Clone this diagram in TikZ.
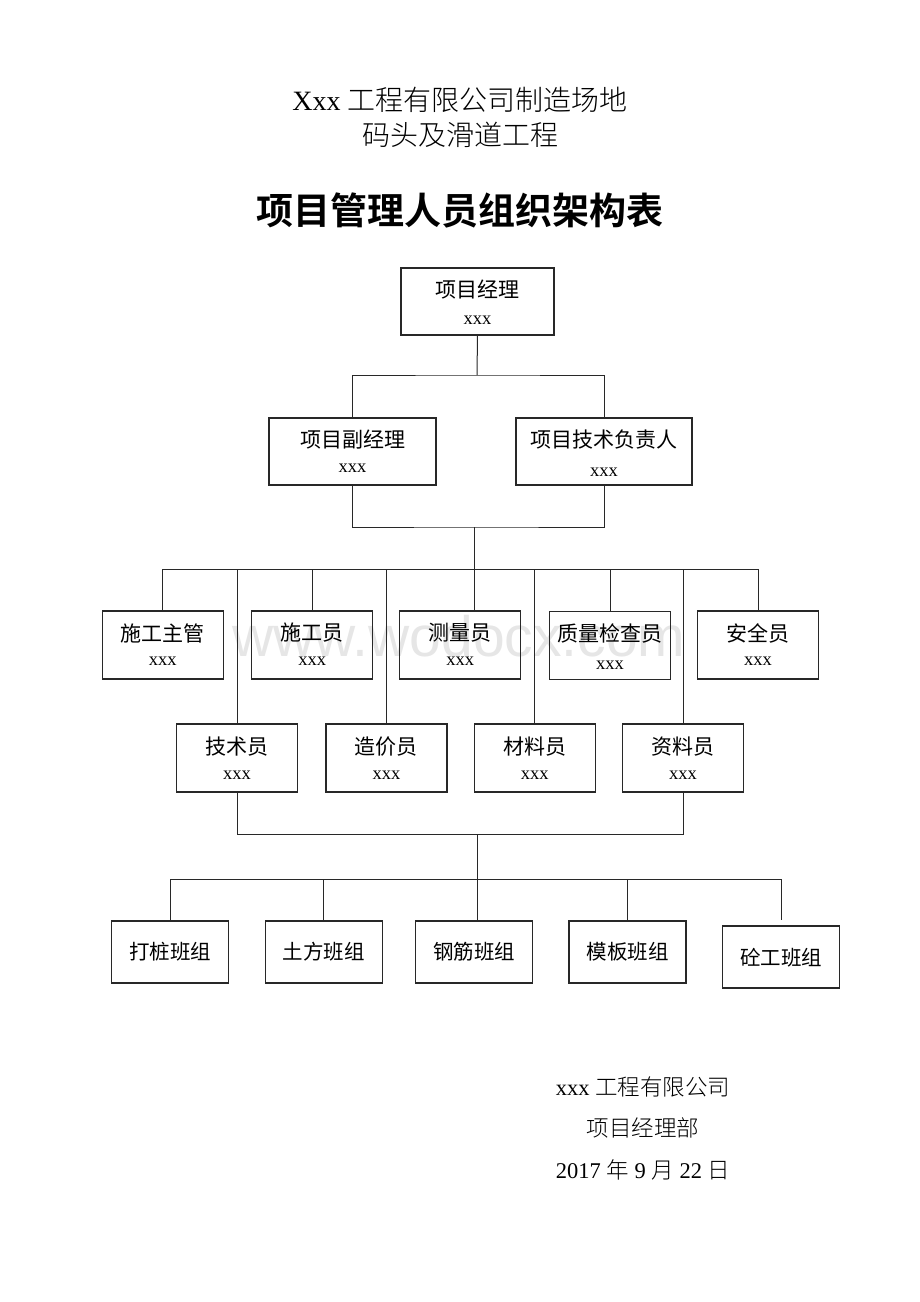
\documentclass[tikz,border=0pt]{standalone}
\usepackage{fontspec}
\setmainfont{Liberation Serif}
\newfontfamily\cjk{Noto Sans CJK SC}[BoldFont={Noto Sans CJK SC Bold}]
\newfontfamily\cjkl{Noto Sans CJK SC Light}
\newfontfamily\wmfont{Liberation Sans}
\definecolor{wm}{RGB}{230,230,230}
\definecolor{ln}{RGB}{40,40,40}
\begin{document}
\begin{tikzpicture}[x=1pt,y=-1pt,
  box/.style={draw=ln, line width=1.2, minimum width=121, minimum height=68, inner sep=0},
  gbox/.style={draw=ln, line width=1.2, minimum width=117, minimum height=62, inner sep=0},
  lab/.style={inner sep=0, font=\cjk\fontsize{21}{21}\selectfont},
  glab/.style={inner sep=0, font=\cjk\fontsize{20.5}{20.5}\selectfont},
  nm/.style={inner sep=0, font=\fontsize{18.5}{18.5}\selectfont},
  conn/.style={draw=ln, line width=1.0},
  ttl/.style={inner sep=0, font=\fontsize{28}{28}\selectfont},
  foot/.style={inner sep=0, font=\fontsize{22.5}{22.5}\selectfont}]
\useasboundingbox[fill=white] (0,0) rectangle (920,1302);
% watermark
\node[inner sep=0, text=wm, font=\wmfont\fontsize{57}{57}\selectfont] (wmk) at (459,636) {www.wodocx.com};
% titles
\node[ttl] (t1) at (460,100) {Xxx {\cjkl 工程有限公司制造场地}};
\node[ttl] (t2) at (460,135) {\cjkl 码头及滑道工程};
\node[inner sep=0, font=\cjk\bfseries\fontsize{37}{37}\selectfont] (t3) at (460,210) {项目管理人员组织架构表};
% level 1
\node[box, minimum width=153, minimum height=67] (pm) at (477.5,301.5) {};
\node[lab] (pmt) at (477.5,290) {项目经理};
\node[nm] (pmn) at (477.5,320) {xxx};
% level 2
\node[box, minimum width=167, minimum height=67] (dpm) at (352.5,451.5) {};
\node[lab] (dpmt) at (352.5,440) {项目副经理};
\node[nm] (dpmn) at (352.5,468) {xxx};
\node[box, minimum width=176, minimum height=67] (tech) at (604,451.5) {};
\node[lab] (techt) at (604,440) {项目技术负责人};
\node[nm] (techn) at (604,472) {xxx};
% level 3
\node[box] (sgzg) at (162.7,645) {};
\node[lab] (sgzgt) at (162.7,633) {施工主管};
\node[nm] (sgzgn) at (162.7,661) {xxx};
\node[box] (sgy) at (312.2,645) {};
\node[lab] (sgyt) at (312.2,633) {施工员};
\node[nm] (sgyn) at (312.2,661) {xxx};
\node[box] (cly) at (460.3,645) {};
\node[lab] (clyt) at (460.3,633) {测量员};
\node[nm] (clyn) at (460.3,661) {xxx};
\node[box] (zljc) at (610,645.5) {};
\node[lab] (zljct) at (610,633) {质量检查员};
\node[nm] (zljcn) at (610,665) {xxx};
\node[box] (aqy) at (758,645) {};
\node[lab] (aqyt) at (758,633) {安全员};
\node[nm] (aqyn) at (758,661) {xxx};
% level 4
\node[box] (jsy) at (237,758) {};
\node[lab] (jsyt) at (237,747) {技术员};
\node[nm] (jsyn) at (237,775) {xxx};
\node[box] (zjy) at (386.4,758) {};
\node[lab] (zjyt) at (386.4,747) {造价员};
\node[nm] (zjyn) at (386.4,775) {xxx};
\node[box] (cliy) at (534.8,758) {};
\node[lab] (cliyt) at (534.8,747) {材料员};
\node[nm] (cliyn) at (534.8,775) {xxx};
\node[box] (zly) at (683,758) {};
\node[lab] (zlyt) at (683,747) {资料员};
\node[nm] (zlyn) at (683,775) {xxx};
% level 5
\node[gbox] (dz) at (170,952) {};
\node[glab] (dzt) at (170,952) {打桩班组};
\node[gbox] (tf) at (323.7,952) {};
\node[glab] (tft) at (323.7,952) {土方班组};
\node[gbox] (gj) at (474,952) {};
\node[glab] (gjt) at (474,952) {钢筋班组};
\node[gbox] (mb) at (627.5,952) {};
\node[glab] (mbt) at (627.5,952) {模板班组};
\node[gbox] (tg) at (781,957) {};
\node[glab] (tgt) at (781,958) {砼工班组};
% junctions
\coordinate (j1) at (477,375);
\coordinate (j2) at (474,527);
\coordinate (j3) at (474,569);
\coordinate (j4) at (477,834);
\coordinate (j5) at (477,879);
\coordinate (c5) at (781,920);
% connectors
\draw[conn] (pm.south) -- (j1);
\draw[conn] (dpm.north) |- (j1) -| (tech.north);
\draw[conn] (dpm.south) |- (j2) -| (tech.south);
\draw[conn] (j2) -- (j3);
\draw[conn] (sgzg.north) -- (sgzg.north |- j3) -- (aqy.north |- j3) -- (aqy.north);
\draw[conn] (j3) -- (j3 |- cly.north);
\draw[conn] (sgy.north) -- (sgy.north |- j3);
\draw[conn] (zljc.north) -- (zljc.north |- j3);
\draw[conn] (jsy.north) -- (jsy.north |- j3);
\draw[conn] (zjy.north) -- (zjy.north |- j3);
\draw[conn] (cliy.north) -- (cliy.north |- j3);
\draw[conn] (zly.north) -- (zly.north |- j3);
\draw[conn] (jsy.south) |- (j4) -| (zly.south);
\draw[conn] (j4) -- (j5);
\draw[conn] (dz.north) -- (dz.north |- j5) -- (c5 |- j5) -- (c5);
\draw[conn] (tf.north) -- (tf.north |- j5);
\draw[conn] (j5) -- (j5 |- gj.north);
\draw[conn] (mb.north) -- (mb.north |- j5);
% footer
\node[foot] (f1) at (643,1087) {xxx {\cjkl 工程有限公司}};
\node[foot] (f2) at (643,1128) {\cjkl 项目经理部};
\node[foot] (f3) at (643,1170) {2017 {\cjkl 年} 9 {\cjkl 月} 22 {\cjkl 日}};
\end{tikzpicture}
\end{document}
